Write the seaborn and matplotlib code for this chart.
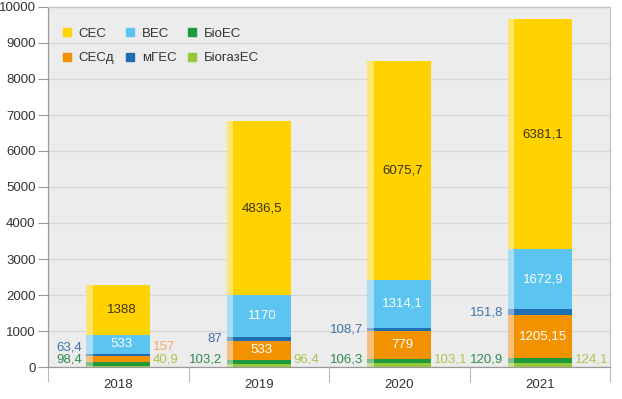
import numpy as np
import matplotlib
matplotlib.use("Agg")
import matplotlib.pyplot as plt
import matplotlib.patches as mpatches
import seaborn as sns

# data (MW), stacking order bottom -> top
years = ['2018', '2019', '2020', '2021']
biogaz = [40.9, 96.4, 103.1, 124.1]      # БіогазЕС
bio = [98.4, 103.2, 106.3, 120.9]        # БіоЕС
sesd = [157, 533, 779, 1205.15]          # СЕСд
mges = [63.4, 87, 108.7, 151.8]          # мГЕС
ves = [533, 1170, 1314.1, 1672.9]        # ВЕС
ses = [1388, 4836.5, 6075.7, 6381.1]     # СЕС

layer_names = ['БіогазЕС', 'БіоЕС', 'СЕСд', 'мГЕС', 'ВЕС', 'СЕС']
layer_vals = [biogaz, bio, sesd, mges, ves, ses]
colors = ['#97C83C', '#1E9A3C', '#F39200', '#1F6EB4', '#5BC4F1', '#FFD200']
strip_colors = ['#C6E08E', '#7DBF8D', '#F8C07C', '#7FA6D4', '#ABDDF4', '#FFE56E']

sns.set_style("white", {"axes.facecolor": "#ECECEC"})
plt.rcParams['font.family'] = ['Liberation Sans', 'DejaVu Sans']
FS = 9.5


def fmt(v):
    return f"{v:g}".replace('.', ',')


fig = plt.figure(figsize=(6.22, 3.99), dpi=100)
ax = fig.add_axes([48 / 622, 32 / 399, 562 / 622, 360 / 399])

W = 0.455
S = 0.045
vals = np.array(layer_vals, dtype=float)
tops = np.cumsum(vals, axis=0)
bottoms = tops - vals
xs = np.arange(len(years))

# stacked bars: draw cumulative totals from the top layer down
for i in range(len(layer_names) - 1, -1, -1):
    sns.barplot(x=years, y=tops[i], color=colors[i], width=W, saturation=1,
                linewidth=0, ax=ax)
# lighter strip on the left side of each bar
for i in range(len(layer_names)):
    ax.bar(xs - W / 2 + S / 2, vals[i], bottom=bottoms[i], width=S,
           color=strip_colors[i], linewidth=0)

ax.set_ylim(0, 10000)
ax.set_xlim(-0.5, 3.5)
ax.set_yticks(np.arange(0, 10001, 1000))
ax.yaxis.grid(True, color='#D6D6D6', linewidth=0.9)
ax.set_axisbelow(True)
ax.tick_params(axis='y', direction='out', length=7, width=0.8, color='#999999',
               labelsize=FS, labelcolor='#333333', pad=2, left=True)
ax.set_xticks(xs)
ax.set_xticks(np.arange(-0.5, 3.6, 1), minor=True)
ax.tick_params(axis='x', which='major', length=0, labelsize=FS,
               labelcolor='#333333', pad=9)
ax.tick_params(axis='x', which='minor', direction='out', length=11, width=0.8,
               color='#BBBBBB', bottom=True)
ax.set_xlabel('')
ax.set_ylabel('')
for side in ['left', 'bottom']:
    ax.spines[side].set_color('#999999')
    ax.spines[side].set_linewidth(0.9)
for side in ['right', 'top']:
    ax.spines[side].set_visible(True)
    ax.spines[side].set_color('#C4C4C4')
    ax.spines[side].set_linewidth(0.9)

# labels inside the bars
for j in range(len(years)):
    mid = bottoms[5, j] + vals[5, j] / 2
    ax.text(xs[j] + S / 2, mid, fmt(ses[j]), ha='center', va='center',
            fontsize=FS, color='#3A3320')
    mid = bottoms[4, j] + vals[4, j] / 2
    ax.text(xs[j] + S / 2, mid, fmt(ves[j]), ha='center', va='center',
            fontsize=FS, color='white')
    if sesd[j] > 300:
        mid = bottoms[2, j] + vals[2, j] / 2
        ax.text(xs[j] + S / 2, mid, fmt(sesd[j]), ha='center', va='center',
                fontsize=FS, color='white')

# labels beside the bars
for j in range(len(years)):
    left = xs[j] - W / 2
    right = xs[j] + W / 2
    y_m = max(bottoms[3, j] + vals[3, j] / 2, 555)
    ax.annotate(fmt(mges[j]), (left, y_m), xytext=(-3, 0), textcoords='offset points',
                ha='right', va='center', fontsize=FS, color='#3F73AA')
    ax.annotate(fmt(bio[j]), (left, 220), xytext=(-3, 0), textcoords='offset points',
                ha='right', va='center', fontsize=FS, color='#2E8B4E')
    ax.annotate(fmt(biogaz[j]), (right, 220), xytext=(2, 0), textcoords='offset points',
                ha='left', va='center', fontsize=FS, color='#A9C552')
    if sesd[j] <= 300:
        ax.annotate(fmt(sesd[j]), (right, y_m), xytext=(2, 0), textcoords='offset points',
                    ha='left', va='center', fontsize=FS, color='#F2A862')

# legend: row 1 СЕС, ВЕС, БіоЕС; row 2 СЕСд, мГЕС, БіогазЕС
order = [5, 2, 4, 3, 1, 0]
handles = [mpatches.Patch(color=colors[k], label=layer_names[k]) for k in order]
leg = ax.legend(handles=handles, ncol=3, loc='upper left', frameon=False,
                bbox_to_anchor=(0.005, 0.975), fontsize=FS, handlelength=0.6,
                handleheight=0.6, handletextpad=0.6, labelspacing=0.95,
                columnspacing=0.9)
for t in leg.get_texts():
    t.set_color('#333333')

fig.savefig('out.png', dpi=100)
